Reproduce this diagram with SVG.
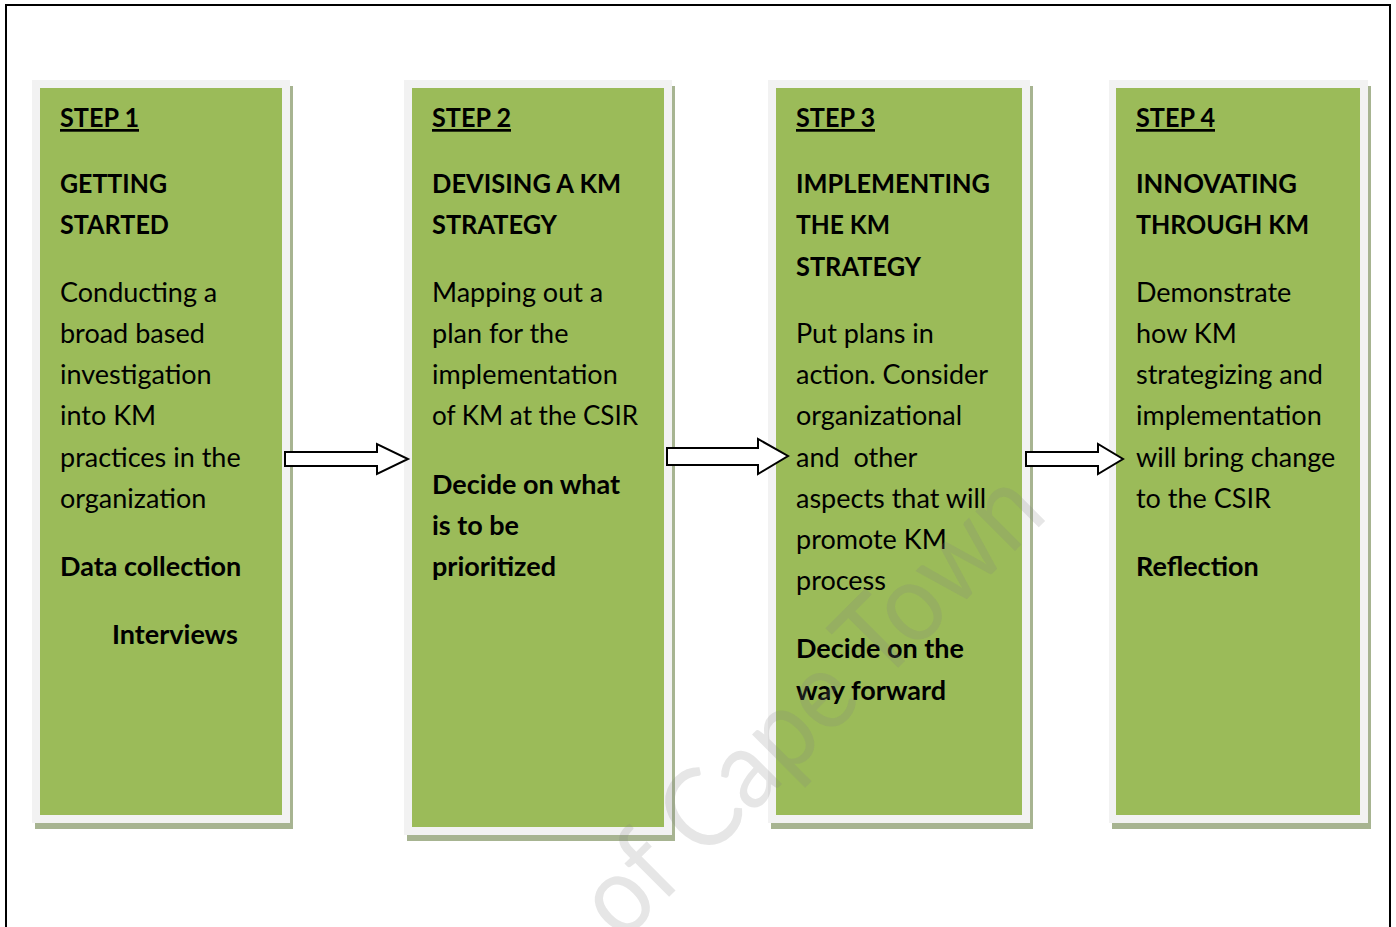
<svg xmlns="http://www.w3.org/2000/svg" width="1396" height="927" viewBox="0 0 1396 927">
<style>
.shadow{fill:#a7b491}
.frame{fill:#f2f2f2}
.green{fill:#9bbb59}
text{font-family:Lato,"Open Sans","Liberation Sans",sans-serif;font-size:27px;fill:#000}
.b{font-weight:bold}
.u{font-weight:bold;text-decoration:underline}
.arrow{fill:#fff;stroke:#000;stroke-width:2;stroke-linejoin:miter}
.wm{font-family:Lato,"Liberation Sans",sans-serif;font-size:111px;fill:#808080;fill-opacity:0.2}
</style>
<rect x="0" y="0" width="1396" height="927" fill="#fff"/>
<rect x="6" y="5" width="1384" height="960" fill="none" stroke="#000" stroke-width="2"/>

<g id="step1">
<rect class="shadow" x="35" y="86" width="258" height="743"/>
<rect class="frame" x="32" y="80" width="258" height="743"/>
<rect class="green" x="40" y="88" width="242" height="727"/>
<text x="60" y="127" class="u" textLength="79" lengthAdjust="spacingAndGlyphs">STEP 1</text>
<text x="60" y="193" class="b" textLength="107" lengthAdjust="spacingAndGlyphs">GETTING</text>
<text x="60" y="234" class="b" textLength="109" lengthAdjust="spacingAndGlyphs">STARTED</text>
<text x="60" y="302">Conducting a</text>
<text x="60" y="343">broad based</text>
<text x="60" y="384">investigation</text>
<text x="60" y="425">into KM</text>
<text x="60" y="467">practices in the</text>
<text x="60" y="508">organization</text>
<text x="60" y="576" class="b">Data collection</text>
<text x="112" y="644" class="b">Interviews</text>
</g>

<g id="step2">
<rect class="shadow" x="407" y="86" width="268" height="755"/>
<rect class="frame" x="404" y="80" width="268" height="755"/>
<rect class="green" x="412" y="88" width="252" height="739"/>
<text x="432" y="127" class="u" textLength="79" lengthAdjust="spacingAndGlyphs">STEP 2</text>
<text x="432" y="193" class="b" textLength="189" lengthAdjust="spacingAndGlyphs">DEVISING A KM</text>
<text x="432" y="234" class="b" textLength="125" lengthAdjust="spacingAndGlyphs">STRATEGY</text>
<text x="432" y="302">Mapping out a</text>
<text x="432" y="343">plan for the</text>
<text x="432" y="384">implementation</text>
<text x="432" y="425" textLength="206" lengthAdjust="spacingAndGlyphs">of KM at the CSIR</text>
<text x="432" y="494" class="b">Decide on what</text>
<text x="432" y="535" class="b">is to be</text>
<text x="432" y="576" class="b">prioritized</text>
</g>

<g id="step3">
<rect class="shadow" x="771" y="86" width="262" height="743"/>
<rect class="frame" x="768" y="80" width="262" height="743"/>
<rect class="green" x="776" y="88" width="246" height="727"/>
<text x="796" y="127" class="u" textLength="79" lengthAdjust="spacingAndGlyphs">STEP 3</text>
<text x="796" y="193" class="b" textLength="194" lengthAdjust="spacingAndGlyphs">IMPLEMENTING</text>
<text x="796" y="234" class="b" textLength="94" lengthAdjust="spacingAndGlyphs">THE KM</text>
<text x="796" y="276" class="b" textLength="125" lengthAdjust="spacingAndGlyphs">STRATEGY</text>
<text x="796" y="343">Put plans in</text>
<text x="796" y="384">action. Consider</text>
<text x="796" y="425">organizational</text>
<text x="796" y="467" xml:space="preserve">and  other</text>
<text x="796" y="508">aspects that will</text>
<text x="796" y="549">promote KM</text>
<text x="796" y="590">process</text>
<text x="796" y="658" class="b">Decide on the</text>
<text x="796" y="700" class="b">way forward</text>
</g>

<g id="step4">
<rect class="shadow" x="1112" y="86" width="259" height="743"/>
<rect class="frame" x="1109" y="80" width="259" height="743"/>
<rect class="green" x="1116" y="88" width="244" height="727"/>
<text x="1136" y="127" class="u" textLength="79" lengthAdjust="spacingAndGlyphs">STEP 4</text>
<text x="1136" y="193" class="b" textLength="161" lengthAdjust="spacingAndGlyphs">INNOVATING</text>
<text x="1136" y="234" class="b" textLength="173" lengthAdjust="spacingAndGlyphs">THROUGH KM</text>
<text x="1136" y="302">Demonstrate</text>
<text x="1136" y="343">how KM</text>
<text x="1136" y="384">strategizing and</text>
<text x="1136" y="425">implementation</text>
<text x="1136" y="467">will bring change</text>
<text x="1136" y="508">to the CSIR</text>
<text x="1136" y="576" class="b">Reflection</text>
</g>

<g id="connectors">
<polygon class="arrow" points="285,452 377,452 377,444 408,459 377,474 377,466 285,466"/>
<polygon class="arrow" points="667,448 758,448 758,439 788,456 758,474 758,465 667,465"/>
<polygon class="arrow" points="1026,452 1098,452 1098,444 1123,459 1098,474 1098,466 1026,466"/>
</g>

<text class="wm" transform="translate(622,944) rotate(-45)" x="0" y="0" textLength="605" lengthAdjust="spacingAndGlyphs">of Cape Town</text>
</svg>
